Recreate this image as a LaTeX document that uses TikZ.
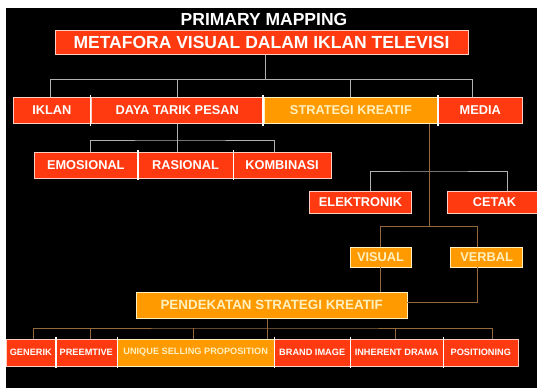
\documentclass[tikz,border=0pt]{standalone}
\usepackage{fontspec}
\setmainfont{Liberation Sans}
\definecolor{boxred}{HTML}{FF3A10}
\definecolor{boxorange}{HTML}{FF9A00}
\definecolor{boxtext}{HTML}{FFF0C0}
\definecolor{linkgray}{HTML}{B0B0B0}
\definecolor{linkbrown}{HTML}{946A3C}
\tikzset{
	box/.style = {draw = white!75!boxred, line width = 0.5pt, inner sep = 0pt, text = white, font = \bfseries\fontsize{12.8}{14}\selectfont},
	redbox/.style = {box, fill = boxred},
	orangebox/.style = {box, fill = boxorange, text = boxtext, draw = boxtext},
	smalltext/.style = {font = \bfseries\fontsize{9.2}{10}\selectfont},
	link/.style = {draw = linkgray, line width = 0.9pt},
	brownlink/.style = {draw = linkbrown, line width = 0.9pt},
	divider/.style = {draw = white, line width = 1.6pt},
}
\begin{document}
\begin{tikzpicture} [x = 1pt, y = -1pt]
	\useasboundingbox (0, 0) rectangle (537, 388) ;
	\fill [white] (0, 0) rectangle (537, 388) ;
	\fill [black] (6, 8) rectangle (537, 388) ;

	% title and root
	\node [text = white, font = \bfseries\fontsize{17.5}{19}\selectfont] (title) at (264, 19) {PRIMARY MAPPING} ;
	\node [redbox, minimum width = 413pt, minimum height = 24pt, font = \bfseries\fontsize{17.5}{19}\selectfont] (root) at (261.5, 42.3) {METAFORA VISUAL DALAM IKLAN TELEVISI\hspace{5pt}} ;

	% first level
	\node [redbox, minimum width = 77pt, minimum height = 26.5pt] (iklan) at (51.9, 110.3) {IKLAN} ;
	\node [redbox, minimum width = 171.6pt, minimum height = 26.5pt] (daya) at (177.2, 110.3) {DAYA TARIK PESAN} ;
	\node [orangebox, minimum width = 173.7pt, minimum height = 26.5pt] (strategi) at (350.9, 110.3) {STRATEGI KREATIF} ;
	\node [redbox, minimum width = 83.3pt, minimum height = 26.5pt] (media) at (480.3, 110.3) {MEDIA} ;

	% daya tarik pesan
	\node [redbox, minimum width = 103.8pt, minimum height = 26pt] (emosional) at (85.8, 165) {EMOSIONAL} ;
	\node [redbox, minimum width = 95.5pt, minimum height = 26pt] (rasional) at (185.5, 165) {RASIONAL} ;
	\node [redbox, minimum width = 97.6pt, minimum height = 26pt] (kombinasi) at (282, 165) {KOMBINASI} ;

	% media
	\node [redbox, minimum width = 102.4pt, minimum height = 22pt] (elektronik) at (360.5, 202) {ELEKTRONIK} ;
	\node [redbox, minimum width = 91pt, minimum height = 22pt] (cetak) at (492.5, 202) {\hspace{4pt}CETAK} ;

	% strategi kreatif
	\node [orangebox, minimum width = 61pt, minimum height = 20pt] (visual) at (380.5, 256.8) {VISUAL} ;
	\node [orangebox, minimum width = 72pt, minimum height = 20pt] (verbal) at (486.7, 256.8) {VERBAL} ;
	\node [orangebox, minimum width = 270.2pt, minimum height = 26pt, font = \bfseries\fontsize{13.4}{15}\selectfont] (pendekatan) at (271.7, 305.3) {PENDEKATAN STRATEGI KREATIF} ;

	% bottom row
	\node [redbox, smalltext, minimum width = 49.3pt, minimum height = 27pt] (generik) at (30.8, 352.5) {GENERIK} ;
	\node [redbox, smalltext, minimum width = 61.6pt, minimum height = 27pt] (preemtive) at (86.3, 352.5) {PREEMTIVE} ;
	\node [orangebox, smalltext, minimum width = 157.2pt, minimum height = 27pt] (usp) at (195.7, 352.5) {UNIQUE SELLING PROPOSITION} ;
	\node [redbox, smalltext, minimum width = 75.7pt, minimum height = 27pt] (brand) at (312.2, 352.5) {BRAND IMAGE} ;
	\node [redbox, smalltext, minimum width = 93.3pt, minimum height = 27pt] (inherent) at (396.7, 352.5) {INHERENT DRAMA} ;
	\node [redbox, smalltext, minimum width = 75pt, minimum height = 27pt] (positioning) at (480.8, 352.5) {POSITIONING} ;

	% junctions
	\coordinate (hubroot) at (265, 79.5) ;
	\coordinate (hubdaya) at (177.7, 140) ;
	\coordinate (hubmedia) at (429.3, 171) ;
	\coordinate (hubstrategi) at (429.3, 226.5) ;
	\coordinate (hubpendekatan) at (267.1, 328) ;

	% grey links
	\draw [link] (hubroot |- root.south) -- (hubroot) ;
	\draw [link] ([xshift = -1.6pt]iklan.north) |- (hubroot) -| ([xshift = -7.7pt]media.north) ;
	\draw [link] (daya.north) -- (daya.north |- hubroot) ;
	\draw [link] (strategi.north) -- (strategi.north |- hubroot) ;
	\draw [link] (hubdaya |- daya.south) -- (hubdaya |- rasional.north) ;
	\draw [link] ([xshift = 4.6pt]emosional.north) |- (hubdaya) -| ([xshift = -7.7pt]kombinasi.north) ;
	\draw [link] ([xshift = 9.5pt]elektronik.north) |- (hubmedia) -| ([xshift = 15pt]cetak.north) ;

	% brown links
	\draw [brownlink] (hubstrategi |- strategi.south) -- (hubstrategi) ;
	\draw [brownlink] ([xshift = -0.5pt]visual.north) |- (hubstrategi) -| ([xshift = -9pt]verbal.north) ;
	\draw [brownlink] ([xshift = -0.5pt]visual.south) -- ([xshift = -0.5pt]visual.south |- pendekatan.north) ;
	\draw [brownlink] ([xshift = -9pt]verbal.south) |- ([yshift = 3pt]pendekatan.east) ;
	\draw [brownlink] (hubpendekatan |- pendekatan.south) -- (hubpendekatan |- usp.north) ;
	\draw [brownlink] ([xshift = 3.1pt]generik.north) |- (hubpendekatan) -| ([xshift = 11.5pt]positioning.north) ;
	\draw [brownlink] ([xshift = 4.1pt]preemtive.north) -- ([xshift = 4.1pt]preemtive.north |- hubpendekatan) ;
	\draw [brownlink] ([xshift = -2.5pt]usp.north) -- ([xshift = -2.5pt]usp.north |- hubpendekatan) ;
	\draw [brownlink] ([xshift = -1pt]inherent.north) -- ([xshift = -1pt]inherent.north |- hubpendekatan) ;

	% white dividers between boxes
	\foreach \a in {iklan, daya, strategi, emosional, rasional, generik, preemtive, usp, brand, inherent}
		\draw [divider] ([yshift = 2pt]\a.north east) -- ([yshift = -2pt]\a.south east) ;

\end{tikzpicture}
\end{document}
